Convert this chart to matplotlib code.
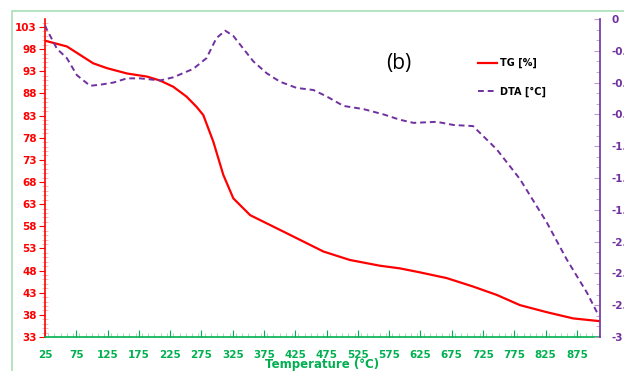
import matplotlib.pyplot as plt
import numpy as np
from matplotlib.patches import Rectangle
from matplotlib.ticker import MultipleLocator

# TG curve (temperature in C, mass %)
tg_temp = [25, 60, 81, 102, 124, 156, 188, 209, 230, 251, 267, 278, 294, 310, 326,
           353, 406, 470, 512, 560, 592, 624, 667, 709, 747, 784, 827, 869, 910]
tg_val = [99.9, 98.6, 96.7, 94.8, 93.7, 92.5, 91.8, 90.9, 89.5, 87.3, 85.0, 83.1, 77.1, 69.6, 64.3,
          60.5, 56.8, 52.3, 50.4, 49.1, 48.5, 47.6, 46.3, 44.4, 42.5, 40.2, 38.6, 37.2, 36.6]

# DTA curve
dta_temp = [25, 28, 44, 60, 76, 97, 113, 134, 156, 177, 209, 230, 262, 283, 299, 313,
            326, 342, 358, 379, 400, 427, 454, 475, 502, 534, 566, 592, 614, 651, 678,
            709, 747, 784, 827, 859, 891, 910]
dta_val = [-0.06, -0.10, -0.28, -0.37, -0.53, -0.63, -0.62, -0.60, -0.56, -0.56, -0.58, -0.55,
           -0.47, -0.37, -0.18, -0.11, -0.16, -0.28, -0.40, -0.51, -0.59, -0.65, -0.67, -0.73,
           -0.82, -0.85, -0.90, -0.95, -0.98, -0.97, -1.00, -1.01, -1.23, -1.51, -1.92, -2.27,
           -2.58, -2.80]

x_ticks = list(range(25, 900, 50))
left_ticks = list(range(33, 104, 5))
right_ticks = [0, -0.3, -0.6, -0.9, -1.2, -1.5, -1.8, -2.1, -2.4, -2.7, -3]

red = '#ff0000'
purple = '#7030a0'
green = '#00b050'

plt.rcParams['font.family'] = ['Verdana', 'DejaVu Sans']

fig = plt.figure(figsize=(6.24, 3.71), dpi=100)
fig.patches.append(Rectangle((12 / 624, -0.1), 1.2, 1 - 11 / 371 + 0.1,
                             transform=fig.transFigure, fill=False,
                             edgecolor='#a8dfb8', linewidth=1.2))

ax = fig.add_axes([45 / 624, 1 - 337 / 371, 555 / 624, 318 / 371])
ax2 = ax.twinx()

ax.plot(tg_temp, tg_val, color=red, linewidth=1.6, label='TG [%]')
ax2.plot(dta_temp, dta_val, color=purple, linewidth=1.4, linestyle=(0, (3, 2)), label='DTA [°C]')

ax.set_xlim(25, 912)
ax.set_ylim(33, 104.8)
ax2.set_ylim(-3.0, 0.0)

ax.set_xticks(x_ticks)
ax.set_yticks(left_ticks)
ax2.set_yticks(right_ticks)
ax2.set_yticklabels(['0' if v == 0 else ('-3' if v == -3 else f'{v:.1f}') for v in right_ticks])
ax.xaxis.set_minor_locator(MultipleLocator(10))
ax.yaxis.set_minor_locator(MultipleLocator(1))
ax2.yaxis.set_minor_locator(MultipleLocator(0.1))

ax.spines['top'].set_visible(False)
ax2.spines['top'].set_visible(False)
ax.spines['right'].set_visible(False)
ax2.spines['left'].set_visible(False)
ax2.spines['bottom'].set_visible(False)
ax.spines['left'].set_color(red)
ax.spines['bottom'].set_color(green)
ax2.spines['right'].set_color(purple)
ax2.spines['right'].set_linewidth(1.2)
ax.spines['left'].set_linewidth(1.2)
ax.spines['bottom'].set_linewidth(1.2)

ax.tick_params(axis='x', which='major', direction='in', length=5, color=green,
               labelcolor=green, labelsize=7.5, pad=9)
ax.tick_params(axis='x', which='minor', direction='in', length=3, color='#8fd9a8')
ax.tick_params(axis='y', which='major', direction='out', length=4, color=red,
               labelcolor=red, labelsize=7.5, pad=2)
ax.tick_params(axis='y', which='minor', direction='inout', length=4, color='#ffaaaa')
ax2.tick_params(axis='y', which='major', direction='in', length=4, color='#b79bd0',
                labelcolor=purple, labelsize=7.5, pad=8)
ax2.tick_params(axis='y', which='minor', direction='in', length=3, color='#b79bd0')

for lab in ax.get_xticklabels() + ax.get_yticklabels() + ax2.get_yticklabels():
    lab.set_fontweight('bold')

ax.set_xlabel('Temperature (°C)', color=green, fontweight='bold', fontsize=8.5, labelpad=-1)

ax.text(0.638, 0.86, '(b)', transform=ax.transAxes, fontsize=15,
        family=['Open Sans', 'DejaVu Sans'], ha='center', va='center')

h1, l1 = ax.get_legend_handles_labels()
h2, l2 = ax2.get_legend_handles_labels()
leg = ax.legend(h1 + h2, l1 + l2, loc='upper left', bbox_to_anchor=(0.765, 0.905),
                frameon=False, handlelength=1.9, handletextpad=0.3,
                labelspacing=1.9, prop={'weight': 'bold', 'size': 7})

fig.savefig('out.png', dpi=100)
